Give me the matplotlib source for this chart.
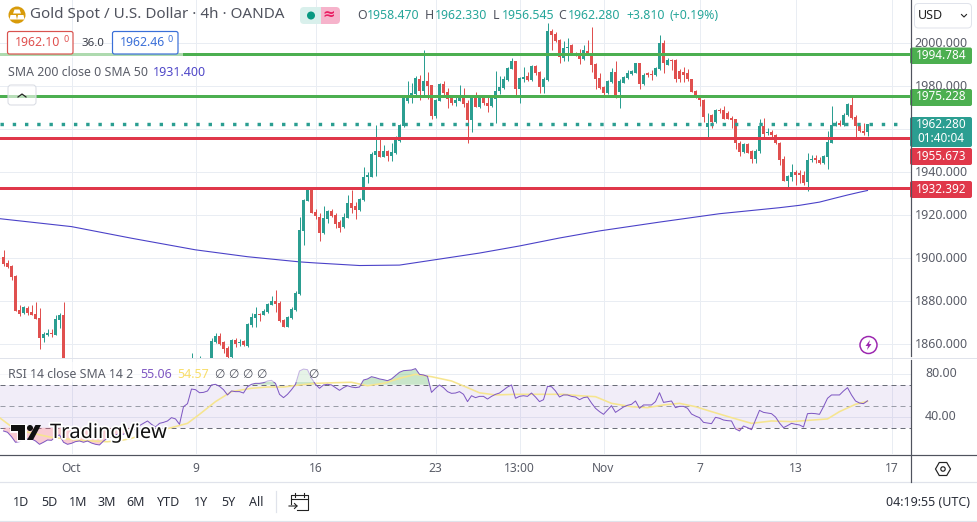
import matplotlib
matplotlib.use("Agg")
import matplotlib.pyplot as plt
import matplotlib.patheffects as pe
from matplotlib.patches import Rectangle, FancyBboxPatch, Circle, Polygon, RegularPolygon
from matplotlib.transforms import blended_transform_factory
import numpy as np

nan = float("nan")

# 4h candles, bar 0 is the first one on screen. Bars under the RSI pane are nan.
opens = [1900.3,1897.9,1896.3,1891.7,1875.8,1874.3,1876.6,1874.9,1874.0,1872.1,1862.8,1864.4,1865.3,1864.4,1871.2,1873.5] + [nan]*31 + [
    1850.0,nan,1850.0,nan,nan,1851.0,1860.7,1863.8,1860.7,1858.2,1853.8,1861.9,1860.4,1861.3,1859.1,1869.0,1872.1,1874.0,1873.7,1875.1,
    1878.3,1879.9,1879.3,1871.2,1868.1,1872.1,1875.8,1883.3,1912.7,1926.7,1932.0,1921.4,1919.2,1911.5,1918.2,1922.0,1920.0,1916.6,1914.3,1918.8,
    1925.4,1924.2,1922.3,1927.0,1937.9,1937.9,1948.1,1949.9,1947.1,1949.8,1947.5,1949.0,1954.3,1961.4,1973.2,1974.7,1976.3,1983.1,1977.8,1982.2,
    1980.5,1966.1,1973.2,1980.9,1977.2,1974.7,1971.9,1973.2,1975.7,1971.9,1964.2,1974.7,1970.1,1974.4,1971.9,1970.7,1974.1,1977.5,1979.1,1982.8,
    1988.0,1991.5,1978.5,1983.1,1984.7,1982.8,1989.3,1986.7,1979.4,1982.8,2005.7,2004.2,2001.4,1993.0,1997.7,1998.9,1995.5,1995.2,1992.4,1996.4,
    1995.5,1990.2,1983.7,1979.4,1976.6,1981.9,1986.7,1977.2,1981.6,1983.7,1985.6,1986.2,1990.6,1980.9,1985.9,1985.6,1985.1,1988.0,2000.2,1989.9,
    1992.1,1992.1,1986.8,1986.5,1985.9,1983.1,1977.8,1975.0,1973.5,1960.8,1966.5,1963.4,1968.8,1968.8,1967.6,1965.1,1964.5,1953.3,1949.3,1953.0,
    1949.9,1946.2,1949.9,1961.4,1958.0,1958.6,1957.4,1953.7,1946.2,1935.7,1937.9,1940.0,1939.7,1938.8,1935.4,1945.6,1946.5,1945.6,1944.0,1947.2,
    1953.7,1961.7,1963.0,1961.7,1966.4,1971.3,1965.7,1961.4,1959.2,1958.47]
highs = [1903.8,1899.1,1896.6,1892.0,1878.0,1877.7,1877.7,1878.0,1879.6,1876.6,1865.8,1866.9,1866.9,1873.5,1874.3,1879.6] + [nan]*31 + [
    1855.7,nan,1854.2,nan,nan,1862.7,1865.0,1865.0,1861.6,1859.1,1862.2,1862.8,1862.2,1861.9,1869.7,1874.6,1877.4,1874.6,1876.2,1879.3,
    1882.4,1885.2,1880.2,1871.5,1872.8,1877.1,1884.8,1919.3,1927.3,1932.6,1932.3,1923.0,1921.1,1924.2,1922.3,1922.6,1921.1,1917.7,1920.8,1929.3,
    1931.6,1926.2,1927.8,1942.2,1940.2,1949.5,1961.9,1956.1,1952.6,1950.2,1953.7,1956.8,1962.3,1975.8,1982.2,1981.3,1984.7,1985.1,1996.8,1986.5,
    1980.5,1973.8,1981.6,1982.2,1979.1,1975.8,1975.7,1980.3,1978.9,1973.5,1976.0,1977.2,1975.7,1976.0,1975.8,1976.0,1987.1,1984.7,1984.7,1989.0,
    1993.0,1991.8,1984.0,1988.7,1986.5,1989.6,1989.6,1987.1,1984.4,2009.1,2006.4,2005.1,2001.7,2001.1,2002.2,1999.5,1995.8,1997.0,1999.2,2001.4,
    2007.3,1990.9,1986.2,1980.0,1982.8,1988.2,1991.5,1983.1,1984.7,1987.5,1987.5,1990.9,1990.9,1986.2,1986.5,1987.5,1989.0,2003.6,2001.4,1992.9,
    1992.7,1992.4,1988.1,1988.7,1988.1,1983.4,1978.1,1975.4,1973.8,1967.6,1967.0,1969.5,1969.8,1970.7,1968.5,1966.0,1964.8,1954.6,1953.7,1953.3,
    1950.2,1950.6,1964.5,1965.0,1960.5,1959.5,1957.7,1954.0,1947.5,1938.8,1943.7,1940.9,1940.9,1940.6,1948.7,1948.1,1947.9,1947.1,1947.9,1959.2,
    1970.7,1963.9,1964.2,1967.3,1971.9,1975.0,1966.4,1961.7,1962.6,1962.33]
lows = [1896.3,1895.2,1889.8,1875.5,1872.8,1874.0,1873.5,1873.4,1871.5,1857.9,1861.0,1863.8,1863.2,1864.1,1867.5,1850.0] + [nan]*31 + [
    1849.0,nan,1849.0,nan,nan,1850.0,1860.3,1859.7,1855.7,1853.4,1853.4,1858.5,1859.1,1859.1,1858.8,1868.1,1868.1,1870.6,1873.4,1874.6,
    1878.0,1874.9,1870.3,1867.8,1867.8,1871.5,1875.5,1882.7,1905.9,1926.4,1920.8,1918.0,1908.1,1911.2,1916.1,1918.9,1913.8,1912.1,1914.0,1918.5,
    1920.8,1918.0,1922.0,1926.7,1935.1,1937.5,1938.2,1946.8,1946.8,1945.3,1945.3,1948.4,1954.0,1960.8,1972.3,1971.9,1975.7,1973.5,1976.0,1974.1,
    1964.5,1965.0,1972.9,1975.4,1969.8,1971.2,1970.7,1972.9,1970.1,1953.7,1958.8,1970.1,1969.8,1971.0,1968.1,1970.1,1963.0,1976.3,1978.8,1982.5,
    1987.8,1974.7,1971.9,1981.9,1982.5,1982.5,1985.1,1976.9,1976.6,1982.5,1996.8,2000.5,1990.9,1991.5,1991.8,1994.9,1994.0,1990.2,1992.1,1994.6,
    1986.7,1978.8,1978.8,1975.0,1976.3,1981.6,1974.3,1969.8,1981.3,1983.4,1985.0,1985.9,1978.8,1980.6,1984.0,1982.8,1984.7,1987.5,1986.2,1989.6,
    1987.5,1981.9,1981.9,1982.0,1982.2,1977.2,1974.4,1970.7,1963.4,1956.4,1960.3,1963.0,1967.6,1964.5,1964.5,1960.3,1950.6,1947.5,1949.0,1948.7,
    1944.0,1944.4,1948.7,1955.2,1957.2,1956.4,1953.0,1943.1,1935.7,1932.6,1936.0,1933.8,1934.7,1934.1,1931.3,1944.7,1944.4,1943.7,1943.7,1941.6,
    1953.3,1961.4,1961.4,1961.4,1966.1,1964.8,1955.7,1958.6,1957.4,1956.545]
closes = [1897.2,1895.7,1891.3,1875.5,1874.0,1877.1,1874.6,1873.7,1871.8,1862.8,1864.7,1865.0,1864.7,1871.8,1873.7,1850.0] + [nan]*31 + [
    1851.0,nan,1851.0,nan,nan,1861.3,1863.8,1860.0,1857.9,1853.8,1861.9,1860.0,1861.0,1859.4,1869.3,1872.4,1874.0,1873.7,1875.5,1878.6,
    1880.2,1878.6,1870.6,1868.1,1872.4,1876.5,1883.9,1913.1,1927.0,1932.3,1921.1,1919.6,1911.5,1918.5,1921.9,1919.5,1915.8,1913.8,1918.9,1925.4,
    1923.1,1922.3,1927.3,1937.5,1938.5,1948.4,1949.9,1947.1,1949.9,1947.5,1949.3,1954.9,1961.9,1974.7,1974.7,1976.6,1983.6,1977.8,1982.5,1980.0,
    1966.1,1973.5,1980.9,1976.9,1974.1,1972.3,1973.5,1975.7,1971.6,1964.2,1975.7,1970.4,1974.4,1971.9,1970.7,1974.7,1977.8,1979.4,1983.1,1988.4,
    1991.5,1978.8,1983.7,1984.4,1982.8,1989.3,1985.9,1979.7,1983.1,2005.4,2003.9,2001.1,1993.3,1997.7,1998.0,1995.2,1994.6,1992.4,1996.8,1995.2,
    1989.6,1983.4,1979.1,1976.9,1982.5,1986.5,1974.7,1982.2,1984.0,1985.9,1987.1,1990.6,1980.9,1985.3,1985.3,1985.3,1988.4,2000.2,1990.6,1992.1,
    1991.8,1983.1,1983.4,1985.0,1983.1,1977.4,1974.7,1973.5,1965.4,1962.7,1963.4,1968.8,1968.2,1964.8,1964.8,1964.2,1953.3,1949.3,1953.0,1949.0,
    1946.2,1949.9,1961.4,1957.7,1958.6,1957.1,1953.3,1945.6,1936.0,1938.2,1940.0,1938.5,1938.5,1934.7,1945.6,1946.2,1945.6,1944.0,1947.5,1954.0,
    1961.7,1963.0,1961.7,1966.7,1971.6,1965.1,1961.4,1958.9,1958.0,1962.28]

sma200_bars = [-1,17,32,48,61,74,78,89,99,109,119,129,139,149,164,179,194,199,204,208,211,214,216]
sma200_vals = [1918.3,1914.6,1909.2,1903.8,1900.6,1898.2,1897.7,1896.5,1896.7,1899.5,1902.3,1905.6,1909.3,1912.6,1916.7,1920.6,1923.4,1924.5,1926.0,1927.9,1929.3,1930.6,1931.4]

level_green = [1994.784, 1975.228]
level_red = [1955.673, 1932.392]
last_price = 1962.28

rsi_vals = [27.0,25.8,21.7,16.5,17.1,19.6,19.6,19.6,17.7,14.6,16.5,18.6,18.3,21.7,23.3,16.5,14.6,15.5,17.1,17.7,
    16.5,17.7,15.8,14.6,14.0,17.7,20.2,21.7,23.3,24.5,23.9,26.4,27.9,28.9,32.0,34.1,36.3,33.2,30.7,34.1,
    35.0,36.3,39.4,38.2,33.2,49.6,52.4,66.0,65.4,62.6,62.9,64.2,69.8,70.4,68.5,65.4,60.5,64.2,63.6,63.6,
    62.3,68.2,70.4,71.3,71.3,71.9,73.5,74.1,71.3,61.1,58.0,61.1,65.4,70.4,82.8,84.6,84.0,76.0,70.4,66.7,
    69.8,70.4,69.8,67.3,64.8,67.3,69.1,67.9,67.3,67.9,74.4,75.4,77.5,76.6,75.4,74.7,73.8,75.4,78.5,81.6,
    83.1,83.4,83.7,85.0,79.7,79.1,77.8,62.9,66.7,69.8,67.3,63.6,62.0,62.3,63.6,61.1,54.3,59.8,58.0,59.2,
    59.2,56.7,59.2,61.1,62.3,65.1,67.9,69.8,57.4,59.2,59.8,59.2,62.3,58.6,54.3,56.1,68.5,68.2,64.2,58.6,
    60.5,60.5,59.2,58.6,56.1,58.0,58.6,53.0,48.1,45.0,42.5,46.5,50.5,44.3,46.8,49.3,50.9,51.8,54.9,48.1,
    51.2,51.2,51.2,54.3,62.6,53.6,54.3,54.9,48.7,49.9,49.9,48.1,42.8,40.9,39.4,35.0,34.4,33.8,39.7,38.8,
    37.2,36.6,36.3,28.9,27.0,31.6,30.1,28.2,37.2,46.2,44.3,43.7,43.1,40.0,34.4,30.1,32.0,34.1,33.2,32.6,
    30.7,43.1,43.4,43.1,42.5,49.6,57.4,60.5,60.5,60.5,64.2,67.3,60.5,54.9,53.0,52.4,55.06]

rsi_sma_bars = [-1,2,6,12,20,26,30,32,37,42,46,49,53,57,62,66,70,74,78,83,87,91,95,99,103,107,112,116,119,123,128,136,140,144,148,152,157,161,165,169,173,177,182,187,192,197,206,209,213,216]
rsi_sma_vals = [39.4,31.0,26.0,21.0,18.0,17.0,18.6,20.2,25.7,30.1,34.1,42.5,54.3,63.6,66.7,67.9,67.9,69.8,71.3,71.9,72.3,69.1,71.3,76.0,79.7,77.5,73.5,67.3,62.5,60.5,61.1,61.1,61.1,59.8,58.9,52.7,49.6,48.7,51.2,52.7,49.6,45.0,39.4,34.1,36.3,35.7,38.2,45.0,51.8,54.57]

price_ticks = [2000, 1980, 1960, 1940, 1920, 1900, 1880, 1860]
tick_bars = [17, 48, 78, 108, 129, 150, 174, 198, 222]
tick_labels = ["Oct", "9", "16", "23", "13:00", "Nov", "7", "13", "17"]
range_labels = ["1D", "5D", "1M", "3M", "6M", "YTD", "1Y", "5Y", "All"]
range_x = [21, 49, 78, 107, 136, 169, 201, 228, 256]

UP = "#2b9e91"
DOWN = "#e0504f"
GREEN = "#4caf50"
RED = "#e0384a"
GRID = "#e9edf3"
EDGE = "#50535e"
TEXT = "#5a5d68"
FONT = "Noto Sans"
PX = 0.72  # one screen pixel in points at dpi 100

plt.rcParams["font.family"] = [FONT, "DejaVu Sans"]

fig = plt.figure(figsize=(9.77, 5.22), dpi=100, facecolor="white")
ax = fig.add_axes([0, 1 - 358 / 522, 911 / 977, 358 / 522])
rsi = fig.add_axes([0, 1 - 454 / 522, 911 / 977, 96 / 522])
chrome = fig.add_axes([0, 0, 1, 1], zorder=10)
chrome.set_xlim(0, 977)
chrome.set_ylim(522, 0)
chrome.axis("off")
chrome.patch.set_alpha(0)

for a in (ax, rsi):
    a.set_xlim(-0.875, 226.875)
    a.set_xticks([])
    a.set_yticks([])
    for s in a.spines.values():
        s.set_visible(False)
    for b in tick_bars:
        a.axvline(b, color=GRID, lw=1 * PX, zorder=0)

ax.set_ylim(1853.49, 2020)
rsi.set_ylim(5.58, 94.88)
for p in price_ticks:
    ax.axhline(p, color=GRID, lw=1 * PX, zorder=0)
for v in (80, 40):
    rsi.axhline(v, color=GRID, lw=1 * PX, zorder=0)

# candles
o = np.array(opens)
h = np.array(highs)
l = np.array(lows)
c = np.array(closes)
bars = np.arange(len(o))
up = c >= o
colors = np.where(up, UP, DOWN)
ok = ~np.isnan(o)
ax.vlines(bars[ok], l[ok], h[ok], colors=colors[ok], lw=1 * PX, zorder=3)
ax.bar(bars[ok], np.maximum(np.abs(c - o)[ok], 0.45), bottom=np.minimum(o, c)[ok], width=0.78, color=colors[ok], zorder=3)

ax.plot(sma200_bars, sma200_vals, color="#4a41c8", lw=1.1 * PX, zorder=2)

for p in level_green:
    ax.axhline(p, color=GREEN, lw=3 * PX, zorder=4)
for p in level_red:
    ax.axhline(p, color=RED, lw=3 * PX, zorder=4)
ax.plot([-0.875, 225], [last_price, last_price], color=UP, lw=3.4 * PX, linestyle=(0, (1, 2.6)), zorder=4)

# RSI pane
rv = np.array(rsi_vals)
rsi.axhspan(30, 70, color="#7e57c2", alpha=0.1, lw=0, zorder=1)
rsi.axhline(70, color="#6a6d78", lw=1 * PX, linestyle=(0, (5, 4)), zorder=2)
rsi.axhline(50, color="#9a9da8", lw=1 * PX, linestyle=(0, (5, 4)), zorder=2)
rsi.axhline(30, color="#6a6d78", lw=1 * PX, linestyle=(0, (5, 4)), zorder=2)
rsi.fill_between(bars, 70, rv, where=rv > 70, interpolate=True, color="#4caf50", alpha=0.3, lw=0, zorder=2)
rsi.fill_between(bars, 30, rv, where=rv < 30, interpolate=True, color="#f06a80", alpha=0.35, lw=0, zorder=2)
rsi.plot(rsi_sma_bars, rsi_sma_vals, color="#f6e58f", lw=1.6 * PX, zorder=3)
rsi.plot(bars, rv, color="#7e57c2", lw=1 * PX, zorder=4)

# panel borders
chrome.add_patch(Rectangle((0, 362), 318, 20, color="white", alpha=0.55, lw=0))
chrome.plot([0, 977], [358, 358], color="#e0e3eb", lw=1 * PX)
chrome.plot([0, 977], [454.5, 454.5], color=EDGE, lw=1.2 * PX)
chrome.plot([0, 977], [482, 482], color="#e0e3eb", lw=1.2 * PX)
chrome.plot([0, 977], [520.5, 520.5], color="#e0e3eb", lw=1.2 * PX)
chrome.plot([911, 911], [0, 356], color=EDGE, lw=1.2 * PX)
chrome.plot([911, 911], [360, 482], color=EDGE, lw=1.2 * PX)


def label(x, y, s, color=TEXT, size=12.5, ha="left", weight="normal", **kw):
    return chrome.text(x, y, s, color=color, fontsize=size * PX, ha=ha, va="center", weight=weight, **kw)


def pill(x0, y0, x1, y1, face, edge="none", r=2, lw=1):
    chrome.add_patch(FancyBboxPatch((x0 + r, y0 + r), x1 - x0 - 2 * r, y1 - y0 - 2 * r,
                                    boxstyle=f"round,pad={r},rounding_size={r}", fc=face, ec=edge, lw=lw * PX))


# price scale
ptrans = blended_transform_factory(chrome.transData, ax.transData)
for p in price_ticks:
    if p != 1960:
        chrome.text(941, p, f"{p}.000", transform=ptrans, color=TEXT, fontsize=12.5 * PX, ha="center", va="center")
rtrans = blended_transform_factory(chrome.transData, rsi.transData)
for v in (80, 40):
    chrome.text(941, v, f"{v}.00", transform=rtrans, color=TEXT, fontsize=12.5 * PX, ha="center", va="center")

pill(910, 47.5, 972, 64, GREEN)
label(941, 55.5, "1994.784", "white", 11.8, "center", "bold")
pill(910, 89, 972, 106, GREEN)
label(941, 97, "1975.228", "white", 11.8, "center", "bold")
pill(910, 117, 972, 147, UP)
label(941, 125, "1962.280", "white", 11.8, "center", "bold")
label(941, 139, "01:40:04", "white", 11.8, "center", "bold")
pill(910, 148, 972, 165, RED)
label(941, 156.5, "1955.673", "white", 11.8, "center", "bold")
pill(910, 181, 972, 198, RED)
label(941, 189.5, "1932.392", "white", 11.8, "center", "bold")

# time axis
xtrans = blended_transform_factory(rsi.transData, chrome.transData)
for b, t in zip(tick_bars, tick_labels):
    chrome.text(b, 468, t, transform=xtrans, color=TEXT, fontsize=12 * PX, ha="center", va="center",
                weight="bold" if t == "Nov" else "normal")

# top left legend
chrome.add_patch(Rectangle((0, 51), 183, 7, color="white", alpha=0.55, lw=0))
chrome.add_patch(Circle((17, 15), 8.5, color="#d89b0a", lw=0))
chrome.add_patch(Polygon([[14.5, 9.5], [19.5, 9.5], [21, 13.5], [13, 13.5]], color="white", lw=0))
chrome.add_patch(Polygon([[10.5, 15], [16, 15], [17, 19.5], [9.5, 19.5]], color="white", lw=0))
chrome.add_patch(Polygon([[18, 15], [23.5, 15], [24.5, 19.5], [17, 19.5]], color="white", lw=0))
label(30, 15, "Gold Spot / U.S. Dollar · 4h · OANDA", "#50535e", 15.2)

pill(300, 7, 322, 24, "#d9f0ec", r=4)
pill(318, 7, 340, 24, "#f6b3cb", r=4)
chrome.add_patch(Rectangle((318, 7), 5, 17, color="#d9f0ec", lw=0))
chrome.add_patch(Rectangle((321, 7), 6, 17, color="#f6b3cb", lw=0))
chrome.add_patch(Circle((311, 15.5), 4, color="#089981", lw=0))
label(329, 15.5, "≈", "#e91e63", 15, "center", "bold")

for x, s in [(357, "O"), (425, "H"), (493, "L"), (558, "C")]:
    label(x, 15.5, s, "#50535e", 12.3)
for x, s in [(367, "1958.470"), (435, "1962.330"), (501.5, "1956.545"), (568, "1962.280"), (626.5, "+3.810"), (670, "(+0.19%)")]:
    label(x, 15.5, s, "#26a69a", 12.3)

pill(7.5, 31.5, 73, 54, "white", "#d9534f", lw=1.2)
label(15, 43, "1962.10", "#e0504f", 12.3)
label(63, 40, "0", "#e0504f", 9)
label(93, 43, "36.0", "#3a3d48", 11.5, "center")
pill(112.5, 31.5, 178, 54, "white", "#3a6fd8", lw=1.2)
label(120, 43, "1962.46", "#3a6fd8", 12.3)
label(168, 40, "0", "#3a6fd8", 9)

label(8, 72, "SMA 200 close 0 SMA 50", TEXT, 12.3)
label(153, 72, "1931.400", "#5048c8", 12.5)
chrome.add_patch(FancyBboxPatch((10, 87), 24, 16, boxstyle="round,pad=2,rounding_size=3", fc=(1, 1, 1, 0.6), ec="#d8dbe3", lw=1 * PX))
chrome.plot([18, 22, 26], [97, 94, 97], color="#222222", lw=1.2 * PX)

# RSI legend
label(8, 375, "RSI 14 close SMA 14 2", TEXT, 12.3)
label(140, 375, "55.06", "#7e57c2", 12.5)
label(177, 375, "54.57", "#f8de6a", 12.5)
for x in (219, 233, 247, 261, 313):
    label(x, 375, "∅", "#50535e", 12, "center")

# watermark
chrome.add_patch(Polygon([[11, 425], [25, 425], [25, 440], [18, 440], [18, 431], [11, 431]], color="#111111", lw=0,
                         path_effects=[pe.withStroke(linewidth=2, foreground="white")]))
chrome.add_patch(Circle((30, 428), 3, color="#111111", lw=0))
chrome.add_patch(Polygon([[35.5, 425], [41, 425], [33, 440], [27, 440]], color="#111111", lw=0))
label(50, 433, "TradingView", "#111111", 20, weight="bold",
      path_effects=[pe.withStroke(linewidth=2.5, foreground="white")])

# lightning icon
chrome.add_patch(Circle((868.5, 345), 8.5, fc="white", ec="#9c27b0", lw=1.5 * PX))
chrome.add_patch(Polygon([[870, 340], [865.5, 346], [868, 346], [867, 350], [871.5, 344], [869, 344]], color="#9c27b0", lw=0))

# top right and bottom bar
pill(914.5, 3.5, 971.5, 28, "white", "#e0e3eb", r=4)
label(918, 15.5, "USD", "#222222", 12.5)
chrome.plot([961.5, 964, 966.5], [14.5, 17, 14.5], color="#222222", lw=1.1 * PX)

chrome.add_patch(RegularPolygon((943, 469), 6, radius=7.5, orientation=np.pi / 2, fc="white", ec="#222222", lw=1.2 * PX))
chrome.add_patch(Circle((943, 469), 2.2, fc="white", ec="#222222", lw=1.2 * PX))

for x, s in zip(range_x, range_labels):
    label(x, 502, s, "#2a2e39", 12.5, "center")
chrome.plot([276, 276], [491, 512], color="#e0e3eb", lw=1.2 * PX)
chrome.plot([291, 291, 308, 308, 297], [504, 495, 495, 510, 510], color="#222222", lw=1.1 * PX)
chrome.plot([291, 308], [499, 499], color="#222222", lw=1.1 * PX)
chrome.plot([295, 295], [492.5, 496.5], color="#222222", lw=1.1 * PX)
chrome.plot([304, 304], [492.5, 496.5], color="#222222", lw=1.1 * PX)
chrome.plot([289, 297, 294.5], [506, 506, 503.5], color="#222222", lw=1.1 * PX)
chrome.plot([297, 294.5], [506, 508.5], color="#222222", lw=1.1 * PX)
label(970, 502, "04:19:55 (UTC)", "#2a2e39", 12.5, "right")

fig.savefig("out.png", dpi=100)
